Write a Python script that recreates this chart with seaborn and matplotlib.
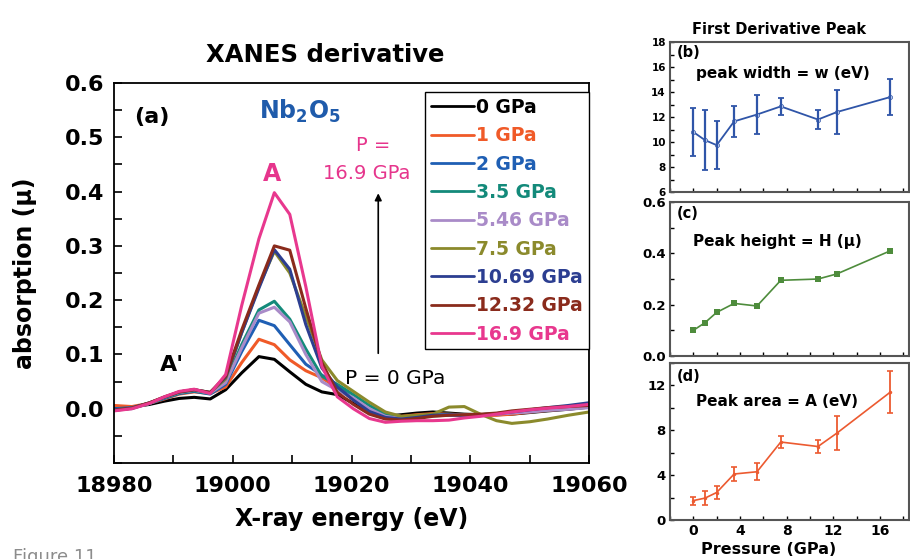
import numpy as np
import pandas as pd
import matplotlib
matplotlib.use("Agg")
import matplotlib.pyplot as plt
import seaborn as sns
from matplotlib.lines import Line2D
from matplotlib.ticker import MultipleLocator

# XANES first-derivative spectra
energy = [18980, 18983, 18986, 18988.5, 18991, 18993.5, 18996.2, 18998.8, 19001.5, 19004.4,
          19007, 19009.6, 19012.3, 19015, 19017.6, 19020.3, 19023, 19025.7, 19028.4, 19031,
          19033.7, 19036.4, 19039, 19041.7, 19044.4, 19047, 19050, 19053, 19056.5, 19060]

p_labels = ["0 GPa", "1 GPa", "2 GPa", "3.5 GPa", "5.46 GPa", "7.5 GPa",
            "10.69 GPa", "12.32 GPa", "16.9 GPa"]
p_colors = ["#000000", "#f05a28", "#1f5fb4", "#138a7a", "#a98bc8", "#8b8a2c",
            "#2c3e91", "#8a2b1c", "#e8388e"]

d0 = [0.002, 0.003, 0.008, 0.014, 0.019, 0.021, 0.018, 0.035, 0.066, 0.096,
      0.091, 0.068, 0.045, 0.031, 0.026, 0.010, -0.008, -0.014, -0.011, -0.008,
      -0.006, -0.008, -0.010, -0.011, -0.011, -0.010, -0.007, -0.004, -0.001, 0.003]
d1 = [0.006, 0.004, 0.010, 0.018, 0.027, 0.031, 0.028, 0.040, 0.085, 0.128,
      0.118, 0.090, 0.070, 0.057, 0.038, 0.016, -0.002, -0.010, -0.014, -0.011,
      -0.009, -0.010, -0.011, -0.012, -0.012, -0.010, -0.006, -0.003, 0.000, 0.004]
d2 = [0.000, 0.002, 0.010, 0.019, 0.028, 0.032, 0.027, 0.045, 0.105, 0.163,
      0.153, 0.118, 0.082, 0.062, 0.042, 0.018, -0.006, -0.017, -0.019, -0.016,
      -0.013, -0.012, -0.013, -0.012, -0.010, -0.007, -0.004, -0.001, 0.003, 0.008]
d35 = [-0.002, 0.001, 0.010, 0.020, 0.029, 0.033, 0.028, 0.050, 0.118, 0.182,
       0.198, 0.165, 0.110, 0.060, 0.045, 0.026, 0.006, -0.010, -0.016, -0.014,
       -0.011, -0.010, -0.012, -0.011, -0.009, -0.006, -0.004, -0.001, 0.002, 0.005]
d546 = [-0.003, 0.000, 0.010, 0.021, 0.030, 0.034, 0.029, 0.048, 0.112, 0.176,
        0.187, 0.160, 0.100, 0.050, 0.034, 0.020, 0.000, -0.014, -0.018, -0.015,
        -0.012, -0.011, -0.012, -0.012, -0.010, -0.008, -0.006, -0.003, -0.001, 0.002]
d75 = [-0.002, 0.001, 0.011, 0.021, 0.031, 0.035, 0.030, 0.055, 0.140, 0.225,
       0.290, 0.250, 0.170, 0.090, 0.052, 0.032, 0.012, -0.006, -0.014, -0.012,
       -0.010, 0.003, 0.004, -0.010, -0.022, -0.027, -0.024, -0.019, -0.012, -0.006]
d1069 = [-0.002, 0.001, 0.011, 0.021, 0.031, 0.035, 0.030, 0.058, 0.140, 0.222,
         0.293, 0.257, 0.155, 0.075, 0.040, 0.016, -0.005, -0.016, -0.019, -0.016,
         -0.012, -0.011, -0.012, -0.011, -0.009, -0.006, -0.002, 0.002, 0.006, 0.011]
d1232 = [-0.003, 0.001, 0.011, 0.022, 0.031, 0.035, 0.030, 0.060, 0.145, 0.228,
         0.300, 0.292, 0.185, 0.085, 0.030, 0.008, -0.010, -0.019, -0.021, -0.018,
         -0.014, -0.012, -0.011, -0.010, -0.008, -0.004, -0.001, 0.002, 0.004, 0.006]
d169 = [-0.004, 0.000, 0.010, 0.022, 0.032, 0.036, 0.028, 0.063, 0.190, 0.313,
        0.398, 0.358, 0.225, 0.078, 0.022, 0.000, -0.018, -0.025, -0.023, -0.022,
        -0.022, -0.021, -0.017, -0.014, -0.010, -0.006, -0.002, 0.001, 0.004, 0.008]
spectra = [d0, d1, d2, d35, d546, d75, d1069, d1232, d169]

# first derivative peak parameters vs pressure
pressure = [0, 1, 2, 3.5, 5.46, 7.5, 10.69, 12.32, 16.9]
width = [10.8, 10.15, 9.75, 11.65, 12.2, 12.85, 11.8, 12.4, 13.6]
width_err = [1.9, 2.4, 1.9, 1.25, 1.55, 0.7, 0.75, 1.75, 1.45]
height = [0.10, 0.13, 0.17, 0.205, 0.195, 0.295, 0.30, 0.32, 0.41]
area = [1.73, 1.95, 2.45, 4.1, 4.3, 6.95, 6.55, 7.75, 11.4]
area_err = [0.35, 0.6, 0.6, 0.6, 0.75, 0.5, 0.6, 1.5, 1.9]

sns.set_theme(style="ticks")
plt.rcParams["font.family"] = ["DejaVu Sans"]
plt.rcParams["font.weight"] = "bold"
plt.rcParams["text.color"] = "black"
plt.rcParams["axes.labelcolor"] = "black"
plt.rcParams["xtick.color"] = "black"
plt.rcParams["ytick.color"] = "black"
plt.rcParams["mathtext.fontset"] = "custom"
plt.rcParams["mathtext.rm"] = "DejaVu Sans:bold"
plt.rcParams["mathtext.bf"] = "DejaVu Sans:bold"
plt.rcParams["mathtext.it"] = "DejaVu Sans:bold"

df = pd.DataFrame({
    "energy": np.tile(energy, len(p_labels)),
    "absorption": np.concatenate(spectra),
    "pressure": np.repeat(p_labels, len(energy)),
})

fig = plt.figure(figsize=(9.1, 5.59), dpi=100)
ax = fig.add_axes([0.1253, 0.1717, 0.522, 0.6798])

sns.lineplot(data=df, x="energy", y="absorption", hue="pressure", hue_order=p_labels,
             palette=p_colors, lw=2.2, estimator=None, legend=False, ax=ax)

ax.set_xlim(18980, 19060)
ax.set_ylim(-0.1, 0.6)
ax.xaxis.set_major_locator(MultipleLocator(20))
ax.xaxis.set_minor_locator(MultipleLocator(10))
ax.set_yticks([0.0, 0.1, 0.2, 0.3, 0.4, 0.5, 0.6])
ax.set_yticklabels(["0.0", "0.1", "0.2", "0.3", "0.4", "0.5", "0.6"])
ax.yaxis.set_minor_locator(MultipleLocator(0.05))
ax.tick_params(which="both", direction="in", length=6, width=1.2, labelsize=16)
ax.tick_params(axis="x", pad=9)
ax.tick_params(axis="y", pad=7)
for s in ax.spines.values():
    s.set_linewidth(1.3)
    s.set_color("black")
ax.set_xlabel("X-ray energy (eV)", fontsize=17, fontweight="bold", labelpad=8)
ax.set_ylabel("absorption (\u03bc)", fontsize=17, fontweight="bold", labelpad=20)

handles = [Line2D([], [], color=c, lw=2) for c in p_colors]
leg = ax.legend(handles, p_labels, loc="upper left", bbox_to_anchor=(0.655, 0.976),
                handlelength=2.3, handletextpad=0.12, labelspacing=0.5,
                borderpad=0.3, borderaxespad=0, fancybox=False, framealpha=1,
                edgecolor="black", labelcolor="linecolor", prop={"weight": "bold", "size": 13.5})
leg.get_frame().set_linewidth(1.0)

ax.text(18986.3, 0.538, "(a)", fontsize=16, fontweight="bold", ha="center", va="center")
ax.text(19011.3, 0.547, "Nb$_2$O$_5$", fontsize=17, color="#1f5bab", ha="center", va="center")
ax.text(19023.6, 0.485, "P =", fontsize=14, color="#e6358c", ha="center", va="center",
        fontweight="normal")
ax.text(19022.6, 0.433, "16.9 GPa", fontsize=14, color="#e6358c", ha="center", va="center",
        fontweight="normal")
ax.text(19006.6, 0.433, "A", fontsize=17, color="#e6358c", ha="center", va="center")
ax.text(18989.7, 0.081, "A'", fontsize=16, ha="center", va="center")
ax.text(19027.3, 0.056, "P = 0 GPa", fontsize=14.5, ha="center", va="center", fontweight="normal")
ax.annotate("", xy=(19024.5, 0.402), xytext=(19024.5, 0.097),
            arrowprops=dict(arrowstyle="-|>", color="black", lw=1.2, mutation_scale=10))

fig.text(0.357, 0.902, "XANES derivative", fontsize=17.5, fontweight="bold", ha="center", va="center")
fig.text(0.014, 0.02, "Figure 11", fontsize=13, color="#8c8c8c", fontweight="normal",
         ha="left", va="top")

# right-hand panels
axb = fig.add_axes([0.7363, 0.6565, 0.2626, 0.2683])
axc = fig.add_axes([0.7363, 0.3631, 0.2626, 0.2755])
axd = fig.add_axes([0.7363, 0.0698, 0.2626, 0.2809])

c_b, c_c, c_d = "#2f55a8", "#4e8c3c", "#ec5a30"

sns.lineplot(x=pressure, y=width, color=c_b, lw=1.3, marker="o", markersize=3,
             markerfacecolor="#c8d4f0", markeredgecolor=c_b, markeredgewidth=0.5, ax=axb)
axb.errorbar(pressure, width, yerr=width_err, fmt="none", ecolor=c_b, elinewidth=1.6,
             capsize=2.5, capthick=1.3)
sns.lineplot(x=pressure, y=height, color=c_c, lw=1.2, marker="s", markersize=4,
             markeredgewidth=0, ax=axc)
sns.lineplot(x=pressure, y=area, color=c_d, lw=1.2, marker="o", markersize=2.5,
             markeredgewidth=0, ax=axd)
axd.errorbar(pressure, area, yerr=area_err, fmt="none", ecolor=c_d, elinewidth=1.3,
             capsize=2.5, capthick=1.2)

axb.set_ylim(6, 18)
axb.yaxis.set_major_locator(MultipleLocator(2))
axb.yaxis.set_minor_locator(MultipleLocator(1))
axc.set_ylim(0, 0.6)
axc.set_yticks([0.0, 0.2, 0.4, 0.6])
axc.set_yticklabels(["0.0", "0.2", "0.4", "0.6"])
axc.yaxis.set_minor_locator(MultipleLocator(0.1))
axd.set_ylim(0, 14)
axd.yaxis.set_major_locator(MultipleLocator(4))
axd.yaxis.set_minor_locator(MultipleLocator(2))

for a, lsz in [(axb, 7.5), (axc, 9.5), (axd, 9.5)]:
    a.set_xlim(-2, 18.5)
    a.xaxis.set_major_locator(MultipleLocator(4))
    a.xaxis.set_minor_locator(MultipleLocator(2))
    a.tick_params(which="both", direction="in", length=3, width=1, labelsize=lsz, pad=3)
    a.tick_params(axis="x", labelsize=10)
    for s in a.spines.values():
        s.set_linewidth(1.5)
        s.set_color("#555555")
    a.set_xlabel("")
    a.set_ylabel("")
axb.tick_params(axis="x", labelbottom=False)
axc.tick_params(axis="x", labelbottom=False)

axb.text(0.03, 0.93, "(b)", transform=axb.transAxes, fontsize=10.5, ha="left", va="center")
axb.text(0.472, 0.79, "peak width = w (eV)", transform=axb.transAxes, fontsize=11,
         ha="center", va="center")
axc.text(0.03, 0.927, "(c)", transform=axc.transAxes, fontsize=10.5, ha="left", va="center")
axc.text(0.45, 0.742, "Peak height = H (\u03bc)", transform=axc.transAxes, fontsize=11,
         ha="center", va="center")
axd.text(0.03, 0.913, "(d)", transform=axd.transAxes, fontsize=10.5, ha="left", va="center")
axd.text(0.446, 0.753, "Peak area = A (eV)", transform=axd.transAxes, fontsize=11,
         ha="center", va="center")

fig.text(0.856, 0.948, "First Derivative Peak", fontsize=10.5, fontweight="bold",
         ha="center", va="center")
fig.text(0.845, 0.017, "Pressure (GPa)", fontsize=11.5, fontweight="bold",
         ha="center", va="center")

fig.savefig("out.png", dpi=100)
